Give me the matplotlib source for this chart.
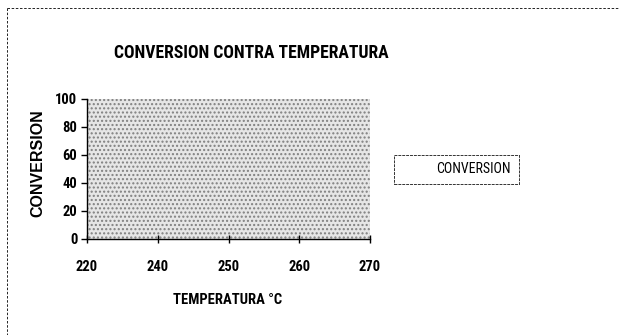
import matplotlib
matplotlib.use("Agg")
import matplotlib.pyplot as plt
from matplotlib.patches import Rectangle
from matplotlib.lines import Line2D

# Data
temperatures = ["220", "240", "250", "260", "270"]
y_ticks = [0, 20, 40, 60, 80, 100]
series_label = "CONVERSION"
title = "CONVERSION CONTRA TEMPERATURA"
x_label = "TEMPERATURA °C"
y_label = "CONVERSION"

plt.rcParams['font.family'] = ['Roboto Condensed', 'Liberation Sans', 'DejaVu Sans']

fig = plt.figure(figsize=(6.19, 3.35), dpi=100)
fig.patch.set_facecolor('white')

W, H = 619, 335
def fx(px): return px / W
def fy(py): return 1 - py / H

# figure border (dotted, scanned look)
fig.add_artist(Line2D([fx(7), fx(619)], [fy(8), fy(8)], color='black', lw=0.6,
                      linestyle=(0, (3, 2)), transform=fig.transFigure))
fig.add_artist(Line2D([fx(7), fx(7)], [fy(8), fy(335)], color='black', lw=0.6,
                      linestyle=(0, (3, 2)), transform=fig.transFigure))

ax = fig.add_axes([fx(87), fy(239), fx(370) - fx(87), fy(99) - fy(239)])
ax.set_facecolor('#e6e6e6')
bg = Rectangle((0, 0), 1, 1, transform=ax.transAxes, facecolor='none',
               edgecolor='#808080', hatch='....', lw=0, zorder=0)
ax.add_patch(bg)

x_pos = list(range(len(temperatures)))
ax.set_xlim(x_pos[0], x_pos[-1])
ax.set_ylim(y_ticks[0], y_ticks[-1])
ax.set_xticks(x_pos)
ax.set_xticklabels(temperatures, fontweight='bold', fontsize=10.5)
ax.set_yticks(y_ticks)
ax.set_yticklabels([str(v) for v in y_ticks], fontweight='bold', fontsize=10.5)
ax.tick_params(axis='x', direction='inout', length=6, width=1, pad=12)
ax.tick_params(axis='y', direction='out', length=4, width=1, pad=3)

for s in ['top', 'right']:
    ax.spines[s].set_visible(False)
for s in ['left', 'bottom']:
    ax.spines[s].set_linewidth(1.0)
    ax.spines[s].set_color('black')

# series (not visible in the scan)
line, = ax.plot([], [], color='white', label=series_label)

fig.text(fx(251), fy(53), title, ha='center', va='center', fontsize=12.7, fontweight='bold')
fig.text(fx(228), fy(300), x_label, ha='center', va='center', fontsize=10.5, fontweight='bold')
fig.text(fx(38), fy(163), y_label, ha='center', va='center', rotation=90, fontsize=11.5,
         fontweight='bold', family=['Liberation Sans', 'DejaVu Sans'])

leg = fig.legend(handles=[line], labels=[series_label], loc='center',
                 bbox_to_anchor=(fx(456.5), fy(169.5)), frameon=True, fancybox=False,
                 fontsize=10, handlelength=1.9, borderpad=0.55, handletextpad=0.6,
                 borderaxespad=0)
leg.get_frame().set_edgecolor('black')
leg.get_frame().set_linewidth(0.7)
leg.get_frame().set_linestyle((0, (3, 1)))

fig.savefig('out.png', dpi=100)
